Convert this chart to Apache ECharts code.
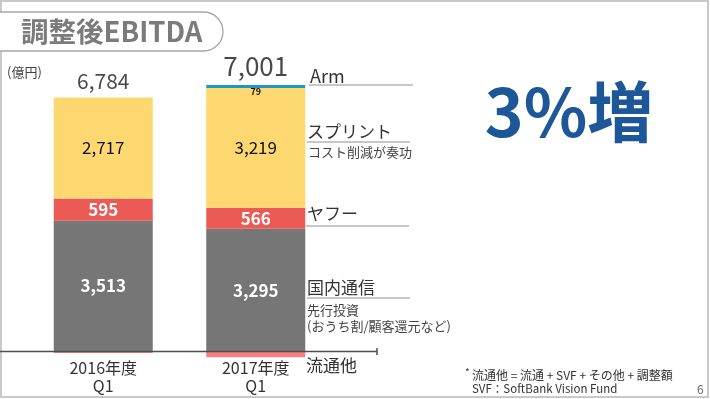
<!DOCTYPE html>
<html>
<head>
<meta charset="utf-8">
<script src="https://cdn.jsdelivr.net/npm/echarts@6/dist/echarts.min.js"></script>
<style>
  html, body { margin: 0; padding: 0; background: #fff; }
  #chart { width: 710px; height: 399px; }
</style>
</head>
<body>
<div id="chart"></div>
<script>
// ---- data ----
const categories = ['2016年度\nQ1', '2017年度\nQ1'];
const domestic = [3513, 3295];      // 国内通信
const yahoo = [595, 566];           // ヤフー
const sprint = [2717, 3219];        // スプリント
const arm = [null, 79];             // Arm
const distribution = [-41, -158];   // 流通他
const totals = [6784, 7001];        // 調整後EBITDA total

const FONT = '"Noto Sans CJK JP", "Noto Sans", sans-serif';
const fmt = v => (v == null ? '' : Number(v).toLocaleString('en-US'));

// top of positive stack (for placing total labels)
const posTop = categories.map((c, i) =>
  [domestic[i], yahoo[i], sprint[i], arm[i]].reduce((s, v) => s + (v > 0 ? v : 0), 0));

const chart = echarts.init(document.getElementById('chart'), null, { renderer: 'canvas' });

const barCommon = {
  type: 'bar',
  stack: 'ebitda',
  barWidth: 99,
  barGap: '-100%'
};

const option = {
  animation: false,
  backgroundColor: '#ffffff',
  grid: { left: 27, width: 305, top: 50, height: 320, containLabel: false, outerBoundsMode: 'none' },
  xAxis: {
    type: 'category',
    data: categories,
    axisLine: { show: false, onZero: true },
    axisTick: { show: false },
    axisLabel: {
      color: '#333',
      fontSize: 16,
      lineHeight: 18,
      margin: -11,
      fontFamily: FONT
    }
  },
  yAxis: {
    type: 'value',
    min: -500,
    max: 8100,
    show: false,
    splitLine: { show: false }
  },
  series: [
    Object.assign({}, barCommon, {
      name: '国内通信',
      data: domestic,
      itemStyle: { color: '#767676' },
      label: { show: true, position: 'inside', formatter: p => fmt(p.value), color: '#fff', fontWeight: 'bold', fontSize: 17, fontFamily: FONT }
    }),
    Object.assign({}, barCommon, {
      name: 'ヤフー',
      data: yahoo,
      itemStyle: { color: '#EB5A55' },
      label: { show: true, position: 'inside', formatter: p => fmt(p.value), color: '#fff', fontWeight: 'bold', fontSize: 17, fontFamily: FONT }
    }),
    Object.assign({}, barCommon, {
      name: 'スプリント',
      data: sprint,
      itemStyle: { color: '#FDD76F' },
      label: { show: true, position: 'inside', formatter: p => fmt(p.value), color: '#111', fontSize: 17, fontFamily: FONT }
    }),
    Object.assign({}, barCommon, {
      name: 'Arm',
      data: arm,
      itemStyle: { color: '#2096C2' },
      label: { show: true, position: 'bottom', distance: -1, formatter: p => fmt(p.value), color: '#111', fontSize: 9, fontWeight: 'bold', fontFamily: FONT }
    }),
    Object.assign({}, barCommon, {
      name: '流通他',
      data: distribution,
      itemStyle: { color: '#F47F7C' },
      label: { show: false }
    }),
    {
      name: 'total',
      type: 'scatter',
      symbolSize: 1,
      itemStyle: { color: 'rgba(0,0,0,0)' },
      data: categories.map((c, i) => ({
        value: [i, posTop[i]],
        label: { fontSize: i === 0 ? 21 : 26 }
      })),
      label: {
        show: true,
        position: 'top',
        distance: 5,
        color: '#1a1a1a',
        fontFamily: FONT,
        formatter: p => fmt(totals[p.dataIndex])
      },
      z: 5
    }
  ]
};

chart.setOption(option);

const y0 = chart.convertToPixel({ yAxisIndex: 0 }, 0);

function txt(text, x, y, size, opts) {
  return {
    type: 'text',
    z: 100,
    style: Object.assign({
      text: text,
      x: x,
      y: y,
      fontSize: size,
      fontFamily: FONT,
      fill: '#333',
      align: 'left',
      verticalAlign: 'middle'
    }, opts || {})
  };
}
function hline(x1, x2, y, color, w) {
  return {
    type: 'line',
    z: 100,
    shape: { x1: x1, y1: y, x2: x2, y2: y },
    style: { stroke: color, lineWidth: w }
  };
}

const graphic = [
  // outer frame
  { type: 'rect', z: 90, shape: { x: 1, y: 1, width: 707, height: 396 }, style: { fill: null, stroke: '#c9c9c9', lineWidth: 2 } },
  // title pill
  { type: 'rect', z: 90, shape: { x: -30, y: 12, width: 253, height: 39, r: 19.5 }, style: { fill: '#fff', stroke: '#a6a6a6', lineWidth: 1.3 } },
  txt('調整後EBITDA', 21, 32, 27.5, { fill: '#7b7b7b', fontWeight: 'bold' }),
  txt('(億円)', 7, 72, 13, { fill: '#444' }),
  // axis line at zero
  hline(0, 377, y0, '#4d4d4d', 1.5),
  { type: 'line', z: 100, shape: { x1: 377, y1: y0 - 3.5, x2: 377, y2: y0 + 3.5 }, style: { stroke: '#4d4d4d', lineWidth: 1.5 } },
  // right annotations
  txt('Arm', 310, 76, 18),
  hline(309, 413, 85, '#b5b5b5', 1.5),
  txt('スプリント', 307, 132, 17),
  hline(307, 410, 142, '#b5b5b5', 1.5),
  txt('コスト削減が奏功', 308, 152, 13, { fill: '#444' }),
  txt('ヤフー', 307, 214, 17),
  hline(306, 409, 226, '#b5b5b5', 1.5),
  txt('国内通信', 307, 288, 17),
  hline(307, 410, 298, '#b5b5b5', 1.5),
  txt('先行投資', 307, 310, 13, { fill: '#444' }),
  txt('(おうち割/顧客還元など)', 307, 326, 13, { fill: '#444' }),
  txt('流通他', 306, 366, 17),
  // big headline
  txt('3%増', 569, 112, 66, { fill: '#1D5797', fontWeight: 'bold', align: 'center' }),
  // footnotes
  txt('*', 465, 372, 10, { fill: '#333' }),
  txt('流通他 = 流通 + SVF + その他 + 調整額', 472, 375, 12, { fill: '#333' }),
  txt('SVF：SoftBank Vision Fund', 472, 389, 11.5, { fill: '#333' }),
  txt('6', 697, 389, 12, { fill: '#666' })
];

chart.setOption({ graphic: graphic });
</script>
</body>
</html>
